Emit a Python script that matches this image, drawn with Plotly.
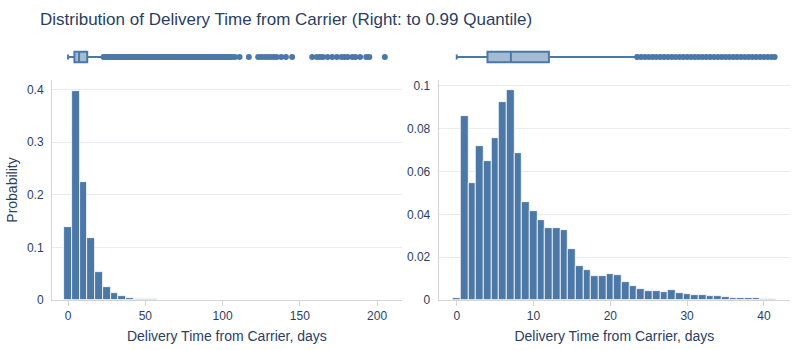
import plotly.graph_objects as go

# ---------------- data ----------------
left_bin_centers = [0, 5, 10, 15, 20, 25, 30, 35, 40, 45, 50, 55, 60, 65, 70, 75, 80, 85, 90, 95,
                    100, 105, 110, 115, 120, 125, 130, 135, 140, 145, 150, 155, 160, 165, 170, 175,
                    180, 185, 190, 195, 200, 205]
left_probs = [0.139, 0.398, 0.225, 0.118, 0.053, 0.024, 0.0135, 0.008, 0.0045, 0.0025, 0.0014,
              0.0009, 0.0006, 0.0004, 0.0003, 0.0002, 0.00015, 0.0001, 0.0001, 0.00008, 0.00006,
              0.00005, 0.00003, 0.00002, 0.00003, 0.00002, 0.00002, 0.00002, 0.00002, 0.00001,
              0.0, 0.00001, 0.00002, 0.00002, 0.00002, 0.00001, 0.00002, 0.00002, 0.00001,
              0.00001, 0.0, 0.00001]

right_bin_centers = [0, 1, 2, 3, 4, 5, 6, 7, 8, 9, 10, 11, 12, 13, 14, 15, 16, 17, 18, 19, 20,
                     21, 22, 23, 24, 25, 26, 27, 28, 29, 30, 31, 32, 33, 34, 35, 36, 37, 38, 39, 40, 41]
right_probs = [0.001, 0.0857, 0.0547, 0.0717, 0.065, 0.0757, 0.0925, 0.0978, 0.0684, 0.0456,
               0.0417, 0.0375, 0.0336, 0.0337, 0.0327, 0.0237, 0.0157, 0.014, 0.0112, 0.011,
               0.0121, 0.0118, 0.0085, 0.0064, 0.0053, 0.0040, 0.0040, 0.0039, 0.0045, 0.0034,
               0.0026, 0.0022, 0.0022, 0.0017, 0.0019, 0.0014, 0.0011, 0.0010, 0.0009, 0.0009,
               0.0005, 0.0004]

# box statistics: [q1, median, q3, lower whisker, upper whisker]
left_box_stats = [4.1, 7.1, 12.4, 0, 22.8]
right_box_stats = [4.0, 7.05, 12.0, 0, 23.4]

left_outliers = [23, 24, 25, 26, 27, 28, 29, 30, 31, 32, 33, 34, 35, 36, 37, 38, 39, 40, 41, 42, 43,
                 44, 45, 46, 47, 48, 49, 50, 51, 52, 53, 54, 55, 56, 57, 58, 59, 60, 61, 62, 63,
                 64, 65, 66, 67, 68, 69, 70, 71, 72, 73, 74, 75, 76, 77, 78, 79, 80, 81, 82, 83,
                 84, 85, 86, 87, 88, 89, 90, 91, 92, 93, 94, 95, 96, 97, 98, 99, 100, 101, 102,
                 103, 104, 105, 106, 108, 111, 117, 123, 125, 127, 129, 131, 133, 135, 138, 141,
                 145, 158, 161, 163, 165, 168, 171, 174, 177, 179, 181, 184, 186, 189, 193, 195, 205]
right_outliers = [23.5, 24.0, 24.5, 25.0, 25.5, 26.0, 26.5, 27.0, 27.5, 28.0, 28.5, 29.0, 29.5,
                  30.0, 30.5, 31.0, 31.5, 32.0, 32.5, 33.0, 33.5, 34.0, 34.5, 35.0, 35.5, 36.0,
                  36.5, 37.0, 37.5, 38.0, 38.5, 39.0, 39.5, 40.0, 40.5, 41.0, 41.4]

title_text = "Distribution of Delivery Time from Carrier (Right: to 0.99 Quantile)"
x_title = "Delivery Time from Carrier, days"
y_title = "Probability"

# ---------------- figure ----------------
COLOR = "#4C78A8"
FILL = "rgba(76,120,168,0.5)"
TEXT = "#2a3f5f"
LINE = "#d4d4d4"
GRID = "#e8ecf1"

fig = go.Figure()

fig.add_trace(go.Bar(x=left_bin_centers, y=left_probs, width=5,
                     marker=dict(color=COLOR, line=dict(color="white", width=0.8)),
                     xaxis="x", yaxis="y", showlegend=False))
fig.add_trace(go.Bar(x=right_bin_centers, y=right_probs, width=1,
                     marker=dict(color=COLOR, line=dict(color="white", width=0.8)),
                     xaxis="x2", yaxis="y2", showlegend=False))

for stats, outl, xa, ya in [(left_box_stats, left_outliers, "x3", "y3"),
                            (right_box_stats, right_outliers, "x4", "y4")]:
    fig.add_trace(go.Box(y=[0], q1=[stats[0]], median=[stats[1]], q3=[stats[2]],
                         lowerfence=[stats[3]], upperfence=[stats[4]], orientation="h",
                         width=0.8, fillcolor=FILL, line=dict(color=COLOR, width=2),
                         boxpoints=False, xaxis=xa, yaxis=ya, showlegend=False))
    fig.add_trace(go.Scatter(x=outl, y=[0] * len(outl), mode="markers",
                             marker=dict(color=COLOR, size=6), xaxis=xa, yaxis=ya,
                             showlegend=False))

left_dom = [0, 0.474]
right_dom = [0.524, 1]
hist_dom = [0, 0.846]
box_dom = [0.8846, 0.9846]

axis_common = dict(showline=True, linecolor=LINE, linewidth=1, gridcolor=GRID, zeroline=False,
                   tickfont=dict(size=12, color=TEXT), automargin=False)

fig.update_layout(
    width=800, height=350,
    margin=dict(l=52, r=10, t=40, b=50),
    paper_bgcolor="white", plot_bgcolor="white",
    font=dict(family="Liberation Sans, Arial, sans-serif", color=TEXT, size=12),
    title=dict(text=title_text, x=0.05, xanchor="left", y=0.945, yanchor="middle",
               font=dict(size=17, color=TEXT)),
    bargap=0,
    xaxis=dict(domain=left_dom, anchor="y", range=[-10.4, 216], ticks="outside", ticklen=5,
               tickcolor=LINE, showgrid=False,
               title=dict(text=x_title, font=dict(size=14), standoff=8), **axis_common),
    yaxis=dict(domain=hist_dom, anchor="x", range=[0, 0.418], ticks="outside", ticklen=5,
               tickcolor="rgba(0,0,0,0)", dtick=0.1,
               title=dict(text=y_title, font=dict(size=14), standoff=6), **axis_common),
    xaxis2=dict(domain=right_dom, anchor="y2", range=[-2.35, 43.4], ticks="outside", ticklen=5,
                tickcolor=LINE, showgrid=False,
                title=dict(text=x_title, font=dict(size=14), standoff=8), **axis_common),
    yaxis2=dict(domain=hist_dom, anchor="x2", range=[0, 0.1027], ticks="outside", ticklen=5,
                tickcolor="rgba(0,0,0,0)", dtick=0.02, **axis_common),
    xaxis3=dict(domain=left_dom, anchor="y3", matches="x", showticklabels=False, showline=False,
                showgrid=False, zeroline=False),
    yaxis3=dict(domain=box_dom, anchor="x3", range=[-1, 1], showticklabels=False, showline=False,
                showgrid=False, zeroline=False),
    xaxis4=dict(domain=right_dom, anchor="y4", matches="x2", showticklabels=False, showline=False,
                showgrid=False, zeroline=False),
    yaxis4=dict(domain=box_dom, anchor="x4", range=[-1, 1], showticklabels=False, showline=False,
                showgrid=False, zeroline=False),
)

fig.write_html("out.html")
